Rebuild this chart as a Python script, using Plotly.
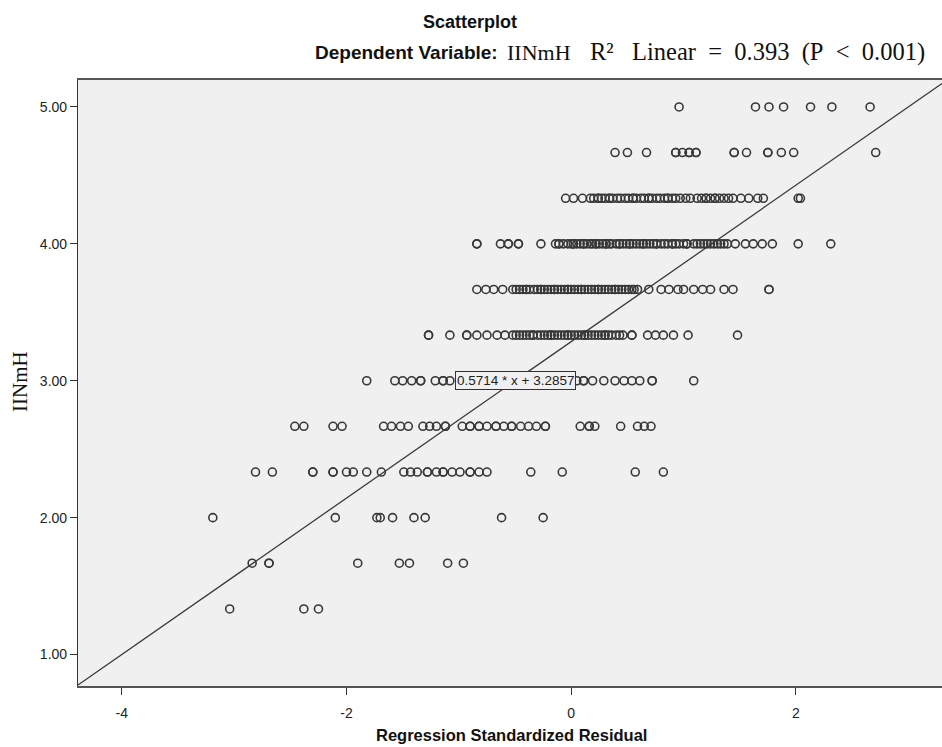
import plotly.graph_objects as go

# ---------------- data ----------------
levels = [5.00, 4.667, 4.333, 4.00, 3.667, 3.333, 3.00, 2.667, 2.333, 2.00, 1.667, 1.333]

res_500 = [0.96, 1.64, 1.76, 1.89, 2.13, 2.32, 2.66]
res_467 = [0.39, 0.50, 0.67, 0.93, 0.93, 0.99, 1.05, 1.05, 1.11, 1.11, 1.45, 1.45,
           1.56, 1.75, 1.75, 1.87, 1.98, 2.71]
res_433 = [-0.05, 0.02, 0.10, 0.17, 0.20, 0.24, 0.24, 0.27, 0.30, 0.34, 0.34, 0.37,
           0.41, 0.44, 0.48, 0.51, 0.55, 0.55, 0.58, 0.62, 0.65, 0.69, 0.69, 0.72,
           0.76, 0.79, 0.83, 0.86, 0.86, 0.90, 0.93, 0.97, 1.02, 1.06, 1.12, 1.16,
           1.20, 1.20, 1.24, 1.28, 1.28, 1.32, 1.36, 1.40, 1.44, 1.51, 1.58, 1.66,
           1.71, 2.02, 2.04]
res_400 = [-0.84, -0.84, -0.63, -0.56, -0.56, -0.47, -0.47, -0.27,
           -0.14, -0.11, -0.11, -0.07, -0.03, 0.00, 0.02, 0.02, 0.05, 0.08, 0.11,
           0.11, 0.14, 0.17, 0.19, 0.22, 0.22, 0.25, 0.28, 0.31, 0.31, 0.34, 0.36,
           0.40, 0.43, 0.43, 0.46, 0.49, 0.52, 0.52, 0.55, 0.58, 0.61, 0.64, 0.64,
           0.67, 0.70, 0.73, 0.76, 0.76, 0.80, 0.83, 0.86, 0.90, 0.90, 0.93, 0.96,
           1.00, 1.03, 1.03, 1.09, 1.12, 1.15, 1.18, 1.21, 1.24, 1.27, 1.30, 1.33,
           1.36, 1.39, 1.46, 1.55, 1.62, 1.70, 1.79, 2.02, 2.31]
res_367 = [-0.84, -0.76, -0.69, -0.61, -0.52, -0.49, -0.46, -0.43, -0.40, -0.40,
           -0.37, -0.33, -0.30, -0.27, -0.27, -0.24, -0.21, -0.18, -0.15, -0.15,
           -0.12, -0.09, -0.06, -0.03, -0.03, 0.00, 0.03, 0.06, 0.09, 0.09, 0.12,
           0.15, 0.18, 0.21, 0.24, 0.24, 0.27, 0.30, 0.33, 0.36, 0.39, 0.39, 0.42,
           0.45, 0.48, 0.51, 0.54, 0.56, 0.59, 0.69, 0.80, 0.87, 0.95, 1.00, 1.09,
           1.17, 1.24, 1.36, 1.44, 1.76, 1.76]
res_333 = [-1.27, -1.27, -1.08, -0.93, -0.93, -0.84, -0.75, -0.66, -0.59, -0.52,
           -0.49, -0.46, -0.43, -0.40, -0.37, -0.34, -0.34, -0.30, -0.27, -0.24,
           -0.21, -0.18, -0.18, -0.15, -0.12, -0.09, -0.06, -0.03, -0.03, 0.00,
           0.03, 0.06, 0.09, 0.12, 0.12, 0.15, 0.18, 0.21, 0.24, 0.27, 0.30, 0.30,
           0.33, 0.36, 0.40, 0.43, 0.46, 0.54, 0.54, 0.68, 0.75, 0.82, 0.91, 1.04,
           1.48]
res_300 = [-1.82, -1.57, -1.50, -1.42, -1.34, -1.34, -1.21, -1.14, -1.14, -1.08,
           -0.95, -0.85, -0.72, -0.60, -0.45, -0.30, -0.15, -0.05, 0.05, 0.11, 0.11,
           0.19, 0.29, 0.39, 0.47, 0.54, 0.61, 0.72, 0.72, 1.09]
res_267 = [-2.46, -2.38, -2.12, -2.04, -1.67, -1.60, -1.52, -1.45, -1.32, -1.26,
           -1.20, -1.12, -1.12, -0.97, -0.90, -0.90, -0.82, -0.82, -0.75, -0.67,
           -0.67, -0.60, -0.53, -0.53, -0.45, -0.38, -0.31, -0.23, -0.23, 0.08,
           0.16, 0.16, 0.21, 0.44, 0.59, 0.65, 0.71]
res_233 = [-2.81, -2.66, -2.30, -2.30, -2.12, -2.12, -2.00, -1.94, -1.82, -1.69,
           -1.49, -1.43, -1.37, -1.28, -1.28, -1.20, -1.14, -1.14, -1.06, -0.99,
           -0.90, -0.90, -0.82, -0.75, -0.36, -0.08, 0.57, 0.82]
res_200 = [-3.19, -2.10, -1.73, -1.70, -1.59, -1.40, -1.30, -0.62, -0.25]
res_167 = [-2.84, -2.69, -2.69, -1.90, -1.53, -1.44, -1.10, -0.96]
res_133 = [-3.04, -2.38, -2.25]

residuals_by_level = [res_500, res_467, res_433, res_400, res_367, res_333,
                      res_300, res_267, res_233, res_200, res_167, res_133]

fit_slope = 0.5714
fit_intercept = 3.2857
fit_label = "0.5714 * x + 3.2857"
GAP = "&nbsp;" * 2
r2_text = ("R²" + GAP + "&nbsp;" + "Linear" + GAP + "=" + GAP + "0.393" + GAP
           + "(P" + GAP + "&lt;" + GAP + "0.001)")

x_ticks = [-4, -2, 0, 2]
y_ticks = [1.00, 2.00, 3.00, 4.00, 5.00]
x_range = [-4.39, 3.30]
y_range = [0.77, 5.197]

# ---------------- figure ----------------
xs, ys = [], []
for lvl, vals in zip(levels, residuals_by_level):
    xs.extend(vals)
    ys.extend([lvl] * len(vals))

fig = go.Figure()

fig.add_trace(go.Scatter(
    x=x_range,
    y=[fit_slope * v + fit_intercept for v in x_range],
    mode="lines",
    line=dict(color="#3a3a3a", width=1.3),
    hoverinfo="skip",
    showlegend=False,
))

fig.add_trace(go.Scatter(
    x=xs, y=ys, mode="markers",
    marker=dict(symbol="circle-open", size=8, color="#383838",
                line=dict(width=1.6, color="#383838")),
    showlegend=False,
))

SANS = "Liberation Sans, Arial, sans-serif"
NARROW = "Liberation Sans Narrow, Arial Narrow, Liberation Sans, sans-serif"
SERIF = "Liberation Serif, Times New Roman, serif"

L, R, T, B = 78, 0, 80, 61
W, H = 942, 747
pw, ph = W - L - R, H - T - B


def px(xp):
    return (xp - L) / pw


def py(yp):
    return (H - B - yp) / ph


annotations = [
    dict(text="<b>Scatterplot</b>", x=px(470), y=py(22), xref="paper", yref="paper",
         showarrow=False, font=dict(family=SANS, size=18, color="#111"),
         xanchor="center", yanchor="middle"),
    dict(text="<b>Dependent Variable:</b>", x=px(313), y=py(53), xref="paper",
         yref="paper", showarrow=False, font=dict(family=SANS, size=19, color="#111"),
         xanchor="left", yanchor="middle"),
    dict(text="IINmH", x=px(505), y=py(52), xref="paper", yref="paper",
         showarrow=False, font=dict(family=SERIF, size=22, color="#111"),
         xanchor="left", yanchor="middle"),
    dict(text=r2_text, x=px(588), y=py(52), xref="paper", yref="paper",
         showarrow=False, font=dict(family=SERIF, size=24.5, color="#111"),
         xanchor="left", yanchor="middle"),
    dict(text="<b>Regression Standardized Residual</b>", x=px(512), y=py(735),
         xref="paper", yref="paper", showarrow=False,
         font=dict(family=SANS, size=16.5, color="#111"),
         xanchor="center", yanchor="middle"),
    dict(text="IINmH", x=px(20), y=py(381), xref="paper", yref="paper",
         showarrow=False, textangle=-90,
         font=dict(family=SERIF, size=21, color="#111"),
         xanchor="center", yanchor="middle"),
    dict(text=fit_label, x=-0.5, y=3.0, xref="x", yref="y", showarrow=False,
         font=dict(family=SANS, size=13.5, color="#222"),
         bgcolor="#f0f0f0", bordercolor="#333", borderwidth=1, borderpad=1,
         xanchor="center", yanchor="middle"),
]

fig.update_layout(
    width=W, height=H,
    margin=dict(l=L, r=R, t=T, b=B, pad=0),
    paper_bgcolor="white",
    plot_bgcolor="#f0f0f0",
    annotations=annotations,
    xaxis=dict(range=x_range, tickvals=x_ticks, ticktext=[str(t) for t in x_ticks],
               showgrid=False, zeroline=False, showline=True, linecolor="#555",
               linewidth=1.5, mirror=True, ticks="outside", ticklen=7,
               tickcolor="#333", ticklabelstandoff=6,
               tickfont=dict(family=NARROW, size=14, color="#222")),
    yaxis=dict(range=y_range, tickvals=y_ticks,
               ticktext=[f"{t:.2f}" for t in y_ticks],
               showgrid=False, zeroline=False, showline=True, linecolor="#333",
               linewidth=1.2, mirror=False, ticks="outside", ticklen=7,
               tickcolor="#333",
               tickfont=dict(family=NARROW, size=14, color="#222")),
)

fig.write_html("out.html", config={"displayModeBar": False},
               post_script="document.body.style.margin='0px';")
